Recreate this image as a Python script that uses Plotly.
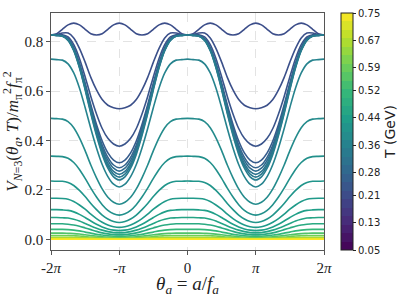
import math
import plotly.graph_objects as go
from plotly.colors import sample_colorscale

PI = math.pi

# Temperatures (GeV) of the drawn curves, low to high
T_values = [0.218, 0.222, 0.232, 0.253, 0.274, 0.295, 0.316, 0.330, 0.344,
            0.365, 0.386, 0.400, 0.414, 0.428, 0.442, 0.456, 0.477,
            0.512, 0.554, 0.596, 0.638, 0.680, 0.715, 0.750]

# Each curve sampled over theta = 0, pi/12, ..., pi (curves are even and 2pi-periodic)
curves = [
    [0.828, 0.833, 0.851, 0.869, 0.876, 0.869, 0.851, 0.833, 0.828, 0.833, 0.851, 0.869, 0.876],
    [0.828, 0.829, 0.836, 0.836, 0.816, 0.774, 0.718, 0.656, 0.605, 0.566, 0.543, 0.533, 0.529],
    [0.828, 0.828, 0.829, 0.820, 0.789, 0.733, 0.659, 0.579, 0.508, 0.449, 0.409, 0.386, 0.377],
    [0.828, 0.827, 0.826, 0.813, 0.777, 0.714, 0.633, 0.545, 0.465, 0.398, 0.350, 0.321, 0.310],
    [0.828, 0.827, 0.825, 0.811, 0.773, 0.709, 0.625, 0.535, 0.452, 0.382, 0.332, 0.301, 0.290],
    [0.828, 0.826, 0.825, 0.810, 0.770, 0.705, 0.620, 0.527, 0.443, 0.371, 0.320, 0.288, 0.276],
    [0.828, 0.826, 0.824, 0.808, 0.768, 0.701, 0.615, 0.521, 0.435, 0.362, 0.308, 0.275, 0.263],
    [0.828, 0.826, 0.824, 0.807, 0.766, 0.698, 0.611, 0.515, 0.428, 0.353, 0.298, 0.264, 0.252],
    [0.828, 0.826, 0.823, 0.806, 0.764, 0.695, 0.606, 0.509, 0.420, 0.344, 0.288, 0.253, 0.240],
    [0.730, 0.728, 0.726, 0.711, 0.674, 0.613, 0.534, 0.449, 0.370, 0.303, 0.254, 0.223, 0.212],
    [0.490, 0.489, 0.487, 0.477, 0.452, 0.411, 0.359, 0.301, 0.249, 0.204, 0.170, 0.150, 0.142],
    [0.337, 0.336, 0.335, 0.328, 0.311, 0.283, 0.247, 0.207, 0.171, 0.140, 0.117, 0.103, 0.098],
    [0.236, 0.235, 0.235, 0.230, 0.218, 0.198, 0.173, 0.145, 0.120, 0.098, 0.082, 0.072, 0.068],
    [0.166, 0.166, 0.165, 0.162, 0.153, 0.139, 0.122, 0.102, 0.084, 0.069, 0.058, 0.051, 0.048],
    [0.120, 0.120, 0.119, 0.117, 0.111, 0.101, 0.088, 0.074, 0.061, 0.050, 0.042, 0.037, 0.035],
    [0.088, 0.088, 0.087, 0.086, 0.081, 0.074, 0.064, 0.054, 0.045, 0.037, 0.031, 0.027, 0.026],
    [0.063, 0.063, 0.063, 0.061, 0.058, 0.053, 0.046, 0.039, 0.032, 0.026, 0.022, 0.019, 0.018],
    [0.040, 0.040, 0.040, 0.039, 0.037, 0.034, 0.029, 0.025, 0.020, 0.017, 0.014, 0.012, 0.012],
    [0.025, 0.025, 0.025, 0.024, 0.023, 0.021, 0.018, 0.015, 0.013, 0.010, 0.009, 0.008, 0.007],
    [0.015, 0.015, 0.015, 0.015, 0.014, 0.013, 0.011, 0.009, 0.008, 0.006, 0.005, 0.005, 0.004],
    [0.008, 0.008, 0.008, 0.008, 0.007, 0.007, 0.006, 0.005, 0.004, 0.003, 0.003, 0.002, 0.002],
    [0.004, 0.004, 0.004, 0.004, 0.004, 0.003, 0.003, 0.003, 0.002, 0.002, 0.002, 0.001, 0.001],
    [0.002, 0.002, 0.002, 0.002, 0.002, 0.002, 0.001, 0.001, 0.001, 0.001, 0.001, 0.001, 0.001],
    [0.000, 0.000, 0.000, 0.000, 0.000, 0.000, 0.000, 0.000, 0.000, 0.000, 0.000, 0.000, 0.000],
]

x_tickvals = [-2 * PI, -PI, 0, PI, 2 * PI]
x_ticktext = ["-2<i>π</i>", "-<i>π</i>", "0", "<i>π</i>", "2<i>π</i>"]
y_tickvals = [0.0, 0.2, 0.4, 0.6, 0.8]
y_ticktext = ["0.0", "0.2", "0.4", "0.6", "0.8"]
cbar_ticks = [0.05, 0.13, 0.21, 0.28, 0.36, 0.44, 0.52, 0.59, 0.67, 0.75]
T_min, T_max = 0.05, 0.75
N_bands = 28

STEPS = 12  # samples per pi


def full_series(profile):
    xs, ys = [], []
    for k in range(-2 * STEPS, 2 * STEPS + 1):
        m = abs(k) % (2 * STEPS)
        idx = min(m, 2 * STEPS - m)
        xs.append(k * PI / STEPS)
        ys.append(profile[idx])
    return xs, ys


fig = go.Figure()
for T, prof in zip(T_values, curves):
    xs, ys = full_series(prof)
    col = sample_colorscale("Viridis", [(T - T_min) / (T_max - T_min)])[0]
    fig.add_trace(go.Scatter(x=xs, y=ys, mode="lines",
                             line=dict(color=col, width=1.6, shape="spline", smoothing=0.8),
                             showlegend=False, hoverinfo="skip"))

# discrete viridis colour bar
band_cols = sample_colorscale("Viridis", [(i + 0.5) / N_bands for i in range(N_bands)])
cscale = []
for i, c in enumerate(band_cols):
    cscale.append([i / N_bands, c])
    cscale.append([(i + 1) / N_bands, c])

fig.add_trace(go.Scatter(
    x=[None], y=[None], mode="markers", showlegend=False, hoverinfo="skip",
    marker=dict(color=[T_min, T_max], cmin=T_min, cmax=T_max, colorscale=cscale,
                showscale=True,
                colorbar=dict(
                    x=1.0623, xanchor="left", xpad=0, y=0.5, yanchor="middle", ypad=0,
                    len=1, lenmode="fraction", thickness=12, thicknessmode="pixels",
                    outlinewidth=1, outlinecolor="#222",
                    tickvals=cbar_ticks, ticktext=[f"{v:.2f}" for v in cbar_ticks],
                    ticks="outside", ticklen=3, tickcolor="#222",
                    tickfont=dict(family="DejaVu Sans", size=10, color="#222"),
                    title=dict(text="T (GeV)", side="right",
                               font=dict(family="DejaVu Sans", size=14, color="#222")),
                ))))

axis_common = dict(showline=True, linecolor="#555", linewidth=1.2, mirror=True,
                   ticks="outside", ticklen=3.5, tickcolor="#555",
                   showgrid=True, gridcolor="#dcdcdc", griddash="dash", gridwidth=0.8,
                   zeroline=False, automargin=False,
                   tickfont=dict(family="Liberation Serif", size=15, color="#222"))

fig.update_xaxes(range=[-2 * PI, 2 * PI], tickvals=x_tickvals, ticktext=x_ticktext,
                 title=dict(text="<i>θ<sub>a</sub></i> = <i>a</i>/<i>f<sub>a</sub></i>",
                            font=dict(family="Liberation Serif", size=19, color="#222"),
                            standoff=4),
                 **axis_common)
fig.update_yaxes(range=[-0.0435, 0.917], tickvals=y_tickvals, ticktext=y_ticktext,
                 title=dict(text="<i>V</i><sub><i>N</i>=3</sub>(<i>θ<sub>a</sub></i>, <i>T</i>)/<i>m</i><sub>π</sub><sup>2</sup><i>f</i><sub>π</sub><sup>2</sup>",
                            font=dict(family="Liberation Serif", size=17, color="#222"),
                            standoff=3),
                 **axis_common)

fig.update_layout(width=411, height=297,
                  margin=dict(l=51, r=87, t=13, b=47, autoexpand=False),
                  paper_bgcolor="white", plot_bgcolor="white")

fig.write_html("out.html", config={"displayModeBar": False, "staticPlot": True},
               post_script="document.body.style.margin='0';document.body.style.overflow='hidden';")
